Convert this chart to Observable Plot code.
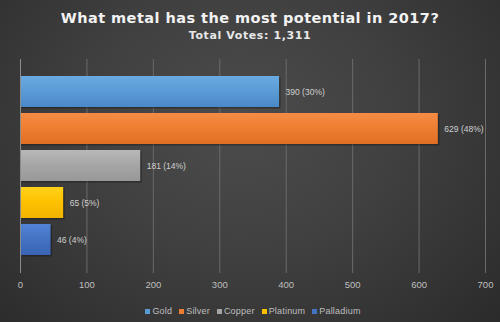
<!DOCTYPE html>
<html>
<head>
<meta charset="utf-8">
<script src="https://cdn.jsdelivr.net/npm/d3@7"></script>
<script src="https://cdn.jsdelivr.net/npm/@observablehq/plot@0.6"></script>
<style>
  html, body { margin: 0; padding: 0; }
  body {
    width: 500px; height: 322px; overflow: hidden;
    background: radial-gradient(ellipse 70% 90% at 48% 38%, #4c4c4c 0%, #404040 45%, #333 80%, #2b2b2b 100%);
    font-family: "Liberation Sans", sans-serif;
  }
  #header { height: 52px; text-align: center; color: #f2f2f2; }
  #title { font-family: "DejaVu Sans", sans-serif; font-weight: bold; font-size: 14.5px; letter-spacing: 0.45px; padding-top: 9px; line-height: 18px; }
  #subtitle { font-family: "DejaVu Sans", sans-serif; font-weight: bold; font-size: 11px; line-height: 14px; padding-top: 2px; letter-spacing: 0.6px; color: #e8e8e8; }
  #chart svg { display: block; background: transparent; }
  #legend { height: 22px; display: flex; justify-content: center; align-items: center; gap: 7px; font-size: 9px; color: #bfbfbf; padding-left: 6px; letter-spacing: 0.2px; }
  #legend span.sw { display: inline-block; width: 5px; height: 5px; margin-right: 2px; }
</style>
</head>
<body>
<div id="header">
  <div id="title">What metal has the most potential in 2017?</div>
  <div id="subtitle">Total Votes: 1,311</div>
</div>
<div id="chart"></div>
<div id="legend"></div>
<script>
const metals = ["Gold", "Silver", "Copper", "Platinum", "Palladium"];
const votes = [390, 629, 181, 65, 46];
const percents = [30, 48, 14, 5, 4];
const xTicks = [0, 100, 200, 300, 400, 500, 600, 700];

const palette = ["#5b9bd5", "#ed7d31", "#a5a5a5", "#ffc000", "#4472c4"];
const lighter = ["#6aaae3", "#f58c44", "#b8b8b8", "#ffd21a", "#5283d4"];
const darker = ["#4a88c8", "#e06f22", "#989898", "#f0b400", "#3a63b5"];
const data = metals.map((m, i) => ({metal: m, votes: votes[i], pct: percents[i]}));

const plot = Plot.plot({
  width: 500,
  height: 248,
  marginTop: 7,
  marginBottom: 27,
  marginLeft: 20,
  marginRight: 15,
  style: {background: "transparent", color: "#bfbfbf", fontFamily: "Liberation Sans, sans-serif", fontSize: "9.5px"},
  x: {domain: [0, 700], ticks: xTicks, tickSize: 0, tickPadding: 8, label: null},
  y: {domain: metals, paddingInner: 0.16, paddingOuter: 0.47, axis: null},
  color: {domain: metals, range: metals.map((m, i) => `url(#bargrad${i})`)},
  marks: [
    Plot.gridX(xTicks.filter(d => d > 0), {stroke: "#6a6a6a", strokeOpacity: 1, strokeWidth: 1}),
    Plot.barX(data, {y: "metal", x: "votes", dx: 1.5, dy: 1.5, fillOpacity: 0.4, fill: "#111"}),
    Plot.barX(data, {y: "metal", x: "votes", fill: "metal"}),
    Plot.ruleX([0], {stroke: "#8c8c8c"}),
    Plot.text(data, {y: "metal", x: "votes", text: d => `${d.votes} (${d.pct}%)`, textAnchor: "start", dx: 6, fill: "#d0d0d0", fontSize: 8.5})
  ]
});

const ns = "http://www.w3.org/2000/svg";
const defs = document.createElementNS(ns, "defs");
palette.forEach((c, i) => {
  const g = document.createElementNS(ns, "linearGradient");
  g.setAttribute("id", `bargrad${i}`);
  g.setAttribute("x1", "0"); g.setAttribute("y1", "0");
  g.setAttribute("x2", "0"); g.setAttribute("y2", "1");
  [[0, lighter[i]], [0.5, c], [1, darker[i]]].forEach(([o, col]) => {
    const s = document.createElementNS(ns, "stop");
    s.setAttribute("offset", o);
    s.setAttribute("stop-color", col);
    g.appendChild(s);
  });
  defs.appendChild(g);
});
plot.insertBefore(defs, plot.firstChild);
document.getElementById("chart").appendChild(plot);

const legend = document.getElementById("legend");
metals.forEach((m, i) => {
  const item = document.createElement("span");
  item.innerHTML = `<span class="sw" style="background:${palette[i]}"></span>${m}`;
  legend.appendChild(item);
});
</script>
</body>
</html>
